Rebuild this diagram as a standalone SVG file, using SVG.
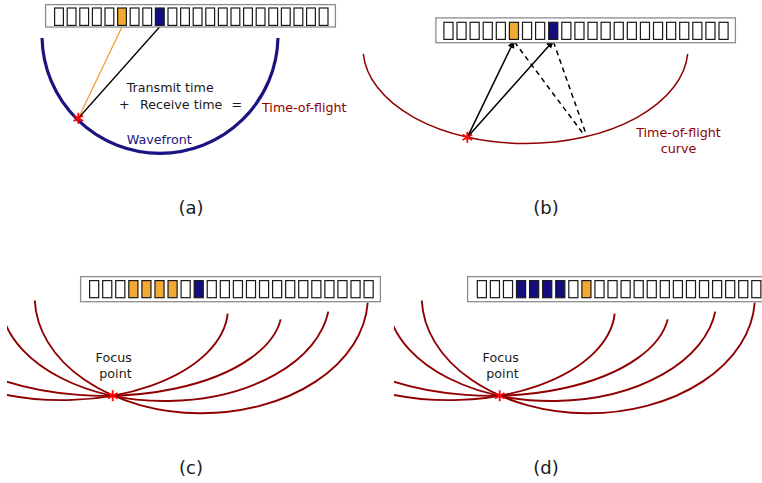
<svg xmlns="http://www.w3.org/2000/svg" width="762" height="483" viewBox="0 0 762 483">
  <style>
    text { font-family: "DejaVu Sans", "Liberation Sans", sans-serif; font-size: 12.7px; fill: #1a1a1a; }
    .lbl { font-size: 18px; text-anchor: middle; }
    .red { fill: #900000; }
    .navy { fill: #1b1480; }
    .box { fill: #ffffff; stroke: #8c8c8c; stroke-width: 1.3; }
    .el { fill: #ffffff; stroke: #1a1a1a; stroke-width: 1.2; }
    .tx { fill: #130d80; }
    .rx { fill: #f2a933; }
    .tof { fill: none; stroke: #900000; }
    .ray { fill: none; stroke: #000000; stroke-width: 1.5; }
  </style>
  <defs>
    <g id="star">
      <line x1="0" y1="-5.5" x2="0" y2="5.5" stroke="#ff0000" stroke-width="1.8"/>
      <line x1="-4.8" y1="-2.75" x2="4.8" y2="2.75" stroke="#ff0000" stroke-width="1.8"/>
      <line x1="-4.8" y1="2.75" x2="4.8" y2="-2.75" stroke="#ff0000" stroke-width="1.8"/>
    </g>
    <marker id="head" viewBox="0 0 8 8" refX="7" refY="4" markerWidth="8" markerHeight="8" markerUnits="userSpaceOnUse" orient="auto">
      <path d="M0,0.5 L8,4 L0,7.5 z" fill="#000000"/>
    </marker>
    <clipPath id="lowclip" clipPathUnits="userSpaceOnUse">
      <rect x="7" y="250" width="400" height="233"/>
    </clipPath>
  </defs>

  <!-- (a) wavefront from one transmitting element -->
  <g id="panel-a">
    <path d="M42.03 38 A118 118 0 0 0 277.97 38" fill="none" stroke="#1b1480" stroke-width="3.2"/>
    <g id="rays-a">
      <line x1="78.3" y1="118.3" x2="122.3" y2="26.3" stroke="#f0a030" stroke-width="1.3"/>
      <line x1="78.3" y1="118.3" x2="160.2" y2="26.3" stroke="#000000" stroke-width="1.3"/>
    </g>
    <g id="array-a">
      <rect class="box" x="45.6" y="4.6" width="289.8" height="22.4"/>
      <rect class="el" x="54.6" y="8" width="8.8" height="17.4"/>
      <rect class="el" x="67.2" y="8" width="8.8" height="17.4"/>
      <rect class="el" x="79.8" y="8" width="8.8" height="17.4"/>
      <rect class="el" x="92.4" y="8" width="8.8" height="17.4"/>
      <rect class="el" x="105" y="8" width="8.8" height="17.4"/>
      <rect class="el rx" x="117.6" y="8" width="8.8" height="17.4"/>
      <rect class="el" x="130.2" y="8" width="8.8" height="17.4"/>
      <rect class="el" x="142.8" y="8" width="8.8" height="17.4"/>
      <rect class="el tx" x="155.4" y="8" width="8.8" height="17.4"/>
      <rect class="el" x="168" y="8" width="8.8" height="17.4"/>
      <rect class="el" x="180.6" y="8" width="8.8" height="17.4"/>
      <rect class="el" x="193.2" y="8" width="8.8" height="17.4"/>
      <rect class="el" x="205.8" y="8" width="8.8" height="17.4"/>
      <rect class="el" x="218.4" y="8" width="8.8" height="17.4"/>
      <rect class="el" x="231" y="8" width="8.8" height="17.4"/>
      <rect class="el" x="243.6" y="8" width="8.8" height="17.4"/>
      <rect class="el" x="256.2" y="8" width="8.8" height="17.4"/>
      <rect class="el" x="268.8" y="8" width="8.8" height="17.4"/>
      <rect class="el" x="281.4" y="8" width="8.8" height="17.4"/>
      <rect class="el" x="294" y="8" width="8.8" height="17.4"/>
      <rect class="el" x="306.6" y="8" width="8.8" height="17.4"/>
      <rect class="el" x="319.2" y="8" width="8.8" height="17.4"/>
    </g>
    <use href="#star" x="78.3" y="118.3"/>
    <text x="126.7" y="92">Transmit time</text>
    <text x="119" y="109">+</text>
    <text x="140" y="109">Receive time</text>
    <text x="231.5" y="109">=</text>
    <text class="red" x="262" y="111.7">Time-of-flight</text>
    <text class="navy" x="126.7" y="144">Wavefront</text>
    <text class="lbl" x="191" y="214">(a)</text>
  </g>

  <!-- (b) time-of-flight curve for one transmit/receive pair -->
  <g id="panel-b">
    <path class="tof" d="M363.3 53.8 A162.5 95.5 0 0 0 687.7 53.8" stroke-width="1.5"/>
    <g id="rays-b">
      <line class="ray" x1="467.3" y1="137.3" x2="514" y2="41" marker-end="url(#head)"/>
      <line class="ray" x1="467.3" y1="137.3" x2="553.2" y2="41" marker-end="url(#head)"/>
      <line class="ray" x1="514.5" y1="42" x2="584.5" y2="135.5" stroke-dasharray="5 4"/>
      <line class="ray" x1="553.5" y1="42" x2="586.5" y2="135.5" stroke-dasharray="5 4"/>
    </g>
    <g id="array-b">
      <rect class="box" x="435.9" y="17.9" width="299.5" height="24.8"/>
      <rect class="el" x="443.9" y="22.3" width="9.1" height="17.1"/>
      <rect class="el" x="457" y="22.3" width="9.1" height="17.1"/>
      <rect class="el" x="470.1" y="22.3" width="9.1" height="17.1"/>
      <rect class="el" x="483.2" y="22.3" width="9.1" height="17.1"/>
      <rect class="el" x="496.3" y="22.3" width="9.1" height="17.1"/>
      <rect class="el rx" x="509.4" y="22.3" width="9.1" height="17.1"/>
      <rect class="el" x="522.5" y="22.3" width="9.1" height="17.1"/>
      <rect class="el" x="535.6" y="22.3" width="9.1" height="17.1"/>
      <rect class="el tx" x="548.7" y="22.3" width="9.1" height="17.1"/>
      <rect class="el" x="561.8" y="22.3" width="9.1" height="17.1"/>
      <rect class="el" x="574.9" y="22.3" width="9.1" height="17.1"/>
      <rect class="el" x="588" y="22.3" width="9.1" height="17.1"/>
      <rect class="el" x="601.1" y="22.3" width="9.1" height="17.1"/>
      <rect class="el" x="614.2" y="22.3" width="9.1" height="17.1"/>
      <rect class="el" x="627.3" y="22.3" width="9.1" height="17.1"/>
      <rect class="el" x="640.4" y="22.3" width="9.1" height="17.1"/>
      <rect class="el" x="653.5" y="22.3" width="9.1" height="17.1"/>
      <rect class="el" x="666.6" y="22.3" width="9.1" height="17.1"/>
      <rect class="el" x="679.7" y="22.3" width="9.1" height="17.1"/>
      <rect class="el" x="692.8" y="22.3" width="9.1" height="17.1"/>
      <rect class="el" x="705.9" y="22.3" width="9.1" height="17.1"/>
      <rect class="el" x="719" y="22.3" width="9.1" height="17.1"/>
    </g>
    <use href="#star" x="467.3" y="137.3"/>
    <text class="red" x="678.5" y="136.7" text-anchor="middle">Time-of-flight</text>
    <text class="red" x="678.5" y="152.7" text-anchor="middle">curve</text>
    <text class="lbl" x="546" y="214">(b)</text>
  </g>

  <!-- four time-of-flight ellipses through one focus point, reused in (c) and (d) -->
  <defs>
    <g id="tof-set">
      <path class="tof" d="M0 393.45 A166 91.9 0 0 0 227.7 313.72" stroke-width="1.9"/>
      <path class="tof" d="M0 379.42 A178 86.9 0 0 0 280.7 319.38" stroke-width="1.9"/>
      <path class="tof" d="M3 316.8 A164.7 102.7 0 0 0 328.3 311.66" stroke-width="1.9"/>
      <path class="tof" d="M34.8 300.5 A166.6 116.5 0 0 0 367.7 302.7" stroke-width="1.9"/>
    </g>
  </defs>

  <!-- (c) -->
  <g id="panel-c">
    <g clip-path="url(#lowclip)">
      <use href="#tof-set"/>
    </g>
    <g id="array-c">
      <rect class="box" x="80.6" y="276.6" width="299.8" height="25.1"/>
      <rect class="el" x="89.6" y="280.6" width="9.1" height="17.1"/>
      <rect class="el" x="102.67" y="280.6" width="9.1" height="17.1"/>
      <rect class="el" x="115.74" y="280.6" width="9.1" height="17.1"/>
      <rect class="el rx" x="128.81" y="280.6" width="9.1" height="17.1"/>
      <rect class="el rx" x="141.88" y="280.6" width="9.1" height="17.1"/>
      <rect class="el rx" x="154.95" y="280.6" width="9.1" height="17.1"/>
      <rect class="el rx" x="168.02" y="280.6" width="9.1" height="17.1"/>
      <rect class="el" x="181.09" y="280.6" width="9.1" height="17.1"/>
      <rect class="el tx" x="194.16" y="280.6" width="9.1" height="17.1"/>
      <rect class="el" x="207.23" y="280.6" width="9.1" height="17.1"/>
      <rect class="el" x="220.3" y="280.6" width="9.1" height="17.1"/>
      <rect class="el" x="233.37" y="280.6" width="9.1" height="17.1"/>
      <rect class="el" x="246.44" y="280.6" width="9.1" height="17.1"/>
      <rect class="el" x="259.51" y="280.6" width="9.1" height="17.1"/>
      <rect class="el" x="272.58" y="280.6" width="9.1" height="17.1"/>
      <rect class="el" x="285.65" y="280.6" width="9.1" height="17.1"/>
      <rect class="el" x="298.72" y="280.6" width="9.1" height="17.1"/>
      <rect class="el" x="311.79" y="280.6" width="9.1" height="17.1"/>
      <rect class="el" x="324.86" y="280.6" width="9.1" height="17.1"/>
      <rect class="el" x="337.93" y="280.6" width="9.1" height="17.1"/>
      <rect class="el" x="351" y="280.6" width="9.1" height="17.1"/>
      <rect class="el" x="364.07" y="280.6" width="9.1" height="17.1"/>
    </g>
    <use href="#star" x="112.7" y="395.7"/>
    <text x="95.6" y="361.7">Focus</text>
    <text x="99.3" y="377.5">point</text>
    <text class="lbl" x="191" y="474">(c)</text>
  </g>

  <!-- (d) -->
  <g id="panel-d">
    <g transform="translate(387 0)" clip-path="url(#lowclip)">
      <use href="#tof-set"/>
    </g>
    <g id="array-d">
      <rect class="box" x="467.6" y="276.6" width="299.8" height="25.1"/>
      <rect class="el" x="477.3" y="280.6" width="9.1" height="17.1"/>
      <rect class="el" x="490.37" y="280.6" width="9.1" height="17.1"/>
      <rect class="el" x="503.44" y="280.6" width="9.1" height="17.1"/>
      <rect class="el tx" x="516.51" y="280.6" width="9.1" height="17.1"/>
      <rect class="el tx" x="529.58" y="280.6" width="9.1" height="17.1"/>
      <rect class="el tx" x="542.65" y="280.6" width="9.1" height="17.1"/>
      <rect class="el tx" x="555.72" y="280.6" width="9.1" height="17.1"/>
      <rect class="el" x="568.79" y="280.6" width="9.1" height="17.1"/>
      <rect class="el rx" x="581.86" y="280.6" width="9.1" height="17.1"/>
      <rect class="el" x="594.93" y="280.6" width="9.1" height="17.1"/>
      <rect class="el" x="608" y="280.6" width="9.1" height="17.1"/>
      <rect class="el" x="621.07" y="280.6" width="9.1" height="17.1"/>
      <rect class="el" x="634.14" y="280.6" width="9.1" height="17.1"/>
      <rect class="el" x="647.21" y="280.6" width="9.1" height="17.1"/>
      <rect class="el" x="660.28" y="280.6" width="9.1" height="17.1"/>
      <rect class="el" x="673.35" y="280.6" width="9.1" height="17.1"/>
      <rect class="el" x="686.42" y="280.6" width="9.1" height="17.1"/>
      <rect class="el" x="699.49" y="280.6" width="9.1" height="17.1"/>
      <rect class="el" x="712.56" y="280.6" width="9.1" height="17.1"/>
      <rect class="el" x="725.63" y="280.6" width="9.1" height="17.1"/>
      <rect class="el" x="738.7" y="280.6" width="9.1" height="17.1"/>
      <rect class="el" x="751.77" y="280.6" width="9.1" height="17.1"/>
    </g>
    <use href="#star" x="499.7" y="395.7"/>
    <text x="482.6" y="361.7">Focus</text>
    <text x="486.3" y="377.5">point</text>
    <text class="lbl" x="546" y="474">(d)</text>
  </g>
</svg>
